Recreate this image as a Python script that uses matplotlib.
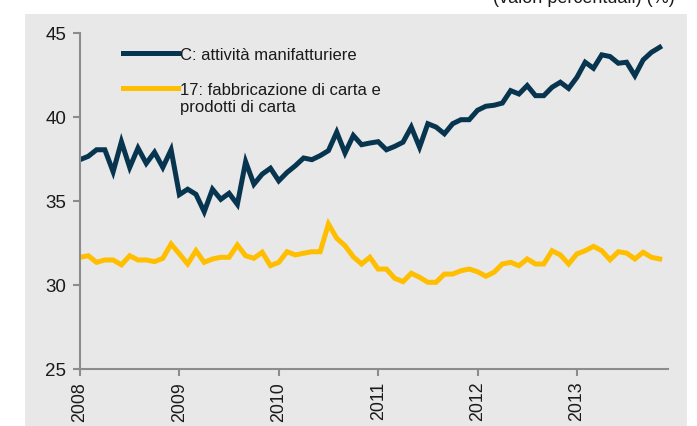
import matplotlib

matplotlib.use("Agg")
import matplotlib.pyplot as plt
import numpy as np
from matplotlib.patches import Rectangle

plt.rcParams["font.family"] = ["Liberation Sans", "DejaVu Sans"]

START_YEAR = 2008
YEARS = [2008, 2009, 2010, 2011, 2012, 2013]
Y_TICKS = [25, 30, 35, 40, 45]

LABEL_C = "C: attività manifatturiere"
LABEL_17 = "17: fabbricazione di carta e"
LABEL_17_CONT = "prodotti di carta"
TOP_NOTE = "(valori percentuali) (%)"

# monthly values, Jan 2008 - Nov 2013
manifatturiere = [
    37.46, 37.66, 38.05, 38.05, 36.74, 38.53, 37.00, 38.15, 37.24, 37.90, 37.00, 38.05,
    35.38, 35.70, 35.40, 34.36, 35.70, 35.10, 35.46, 34.80, 37.34, 36.00, 36.60, 36.95,
    36.20, 36.70, 37.10, 37.56, 37.46, 37.70, 38.00, 39.10, 37.86, 38.90, 38.35, 38.45,
    38.53, 38.05, 38.25, 38.50, 39.40, 38.20, 39.60, 39.40, 39.00, 39.60, 39.84, 39.84,
    40.40, 40.64, 40.70, 40.83, 41.57, 41.37, 41.87, 41.27, 41.27, 41.77, 42.07, 41.70,
    42.36, 43.26, 42.90, 43.70, 43.60, 43.20, 43.26, 42.46, 43.40, 43.85, 44.15,
]
carta = [
    31.65, 31.74, 31.35, 31.49, 31.49, 31.20, 31.74, 31.49, 31.49, 31.39, 31.59, 32.44,
    31.85, 31.25, 32.04, 31.35, 31.55, 31.65, 31.65, 32.38, 31.74, 31.59, 31.95, 31.15,
    31.35, 31.98, 31.79, 31.89, 31.98, 31.98, 33.63, 32.78, 32.34, 31.68, 31.25, 31.65,
    30.95, 30.95, 30.40, 30.20, 30.70, 30.46, 30.16, 30.16, 30.65, 30.65, 30.85, 30.95,
    30.79, 30.52, 30.76, 31.25, 31.35, 31.15, 31.55, 31.25, 31.25, 32.04, 31.79, 31.25,
    31.85, 32.04, 32.30, 32.04, 31.50, 31.98, 31.90, 31.55, 31.95, 31.65, 31.55,
]

NAVY = "#07344f"
YELLOW = "#ffbe00"
AXIS_GREY = "#8c8c8c"
TEXT = "#1a1a1a"
BG = "#e8e8e8"
W, H = 697, 427

x = START_YEAR + np.arange(len(manifatturiere)) / 12.0

fig = plt.figure(figsize=(W / 100, H / 100), dpi=100)
bg = Rectangle((25 / W, 0), (687 - 25) / W, (H - 15) / H,
               transform=fig.transFigure, facecolor=BG, edgecolor="none", zorder=-10)
fig.add_artist(bg)
# header line of the source page, cut by the crop
fig.text(675 / W, 1 - 3 / H, TOP_NOTE, ha="right", va="baseline", fontsize=13, color=TEXT)

ax = fig.add_axes([80 / W, 57 / H, (668 - 80) / W, (370 - 34) / H])
ax.set_zorder(5)
ax.patch.set_visible(False)

ax.plot(x, manifatturiere, color=NAVY, lw=3.6, solid_joinstyle="miter", label=LABEL_C)
ax.plot(x, carta, color=YELLOW, lw=3.6, solid_joinstyle="miter", label=LABEL_17)

ax.set_xlim(START_YEAR, START_YEAR + 71 / 12)
ax.set_ylim(25, 45)
ax.set_yticks(Y_TICKS)
ax.set_xticks(YEARS)
ax.set_xticklabels([str(y) for y in YEARS], rotation=90)

for side in ["top", "right"]:
    ax.spines[side].set_visible(False)
for side in ["left", "bottom"]:
    ax.spines[side].set_color(AXIS_GREY)
    ax.spines[side].set_linewidth(1.5)
ax.tick_params(axis="both", colors=AXIS_GREY, labelcolor=TEXT,
               length=5, width=1.5, direction="out")
ax.tick_params(axis="y", pad=5, labelsize=13.5)
ax.tick_params(axis="x", labelsize=12.8)

leg = ax.legend(loc="upper left", bbox_to_anchor=(0.062, 0.978), frameon=False, fontsize=12,
                handlelength=3.3, handletextpad=0.1, labelspacing=1.2, borderaxespad=0)
for t in leg.get_texts():
    t.set_color(TEXT)

# second line of the paper label, placed right under the first one
fig.canvas.draw()
bb = leg.get_texts()[1].get_window_extent()
fig.text(bb.x0 / W, (bb.y0 - 17) / H, LABEL_17_CONT, ha="left", va="bottom",
         fontsize=12, color=TEXT, zorder=6)

fig.savefig("out.png", dpi=100)
